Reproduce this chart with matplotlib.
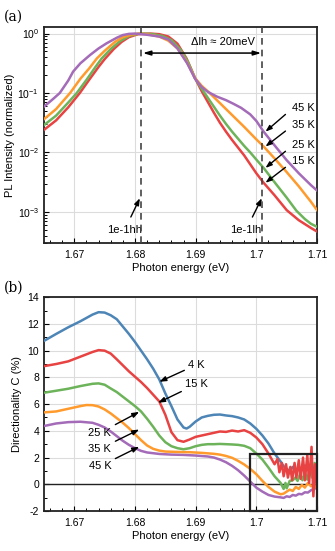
# PL spectra (a) and directionality (b) vs photon energy
import numpy as np
import matplotlib
matplotlib.use("Agg")
import matplotlib.pyplot as plt
from matplotlib.ticker import MultipleLocator, LogLocator, NullFormatter, FixedLocator, FixedFormatter
from matplotlib.patches import Rectangle

plt.rcParams['font.family'] = ['Liberation Sans', 'DejaVu Sans']
plt.rcParams['font.size'] = 7.5
plt.rcParams['mathtext.fontset'] = 'custom'
plt.rcParams['mathtext.rm'] = 'Liberation Sans'
plt.rcParams['mathtext.it'] = 'Liberation Sans:italic'
plt.rcParams['axes.unicode_minus'] = False

# colours
c_blue = '#4d85b6'
c_red = '#e84242'
c_green = '#6cb35a'
c_orange = '#ff9a2c'
c_purple = '#a36bb8'

# ---- panel (a): normalized PL, values stored as log10(I)
e_15a = [1.665, 1.667, 1.669, 1.6709, 1.6725, 1.674, 1.675, 1.6765, 1.6778, 1.679, 1.6805, 1.6825,
         1.684, 1.6855, 1.687, 1.6885, 1.6899, 1.691, 1.692, 1.693, 1.694, 1.695, 1.696, 1.697,
         1.698, 1.699, 1.700, 1.7012, 1.703, 1.705, 1.707, 1.709, 1.710]
l_15a = [-1.62, -1.46, -1.24, -1.0, -0.77, -0.56, -0.43, -0.26, -0.14, -0.06, -0.01, 0.0,
         -0.01, -0.05, -0.17, -0.42, -0.75, -0.97, -1.15, -1.33, -1.5, -1.65, -1.79, -1.92,
         -2.05, -2.2, -2.35, -2.51, -2.72, -2.97, -3.14, -3.27, -3.33]

e_25a = [1.665, 1.667, 1.669, 1.6704, 1.672, 1.6735, 1.6745, 1.676, 1.6775, 1.679, 1.6805, 1.6815,
         1.683, 1.6845, 1.686, 1.6875, 1.6887, 1.6899, 1.691, 1.692, 1.693, 1.694, 1.695, 1.696,
         1.697, 1.698, 1.699, 1.700, 1.7012, 1.703, 1.705, 1.7066, 1.708, 1.709, 1.710]
l_25a = [-1.54, -1.38, -1.16, -1.0, -0.78, -0.56, -0.42, -0.26, -0.13, -0.04, -0.005, 0.0,
         -0.01, -0.04, -0.11, -0.27, -0.47, -0.75, -0.93, -1.08, -1.23, -1.38, -1.52, -1.65,
         -1.77, -1.89, -2.0, -2.12, -2.26, -2.5, -2.76, -2.98, -3.12, -3.2, -3.25]

e_35a = [1.665, 1.667, 1.6693, 1.671, 1.6725, 1.6737, 1.675, 1.6767, 1.678, 1.6795, 1.6808,
         1.682, 1.684, 1.6855, 1.687, 1.6885, 1.6899, 1.691, 1.6923, 1.694, 1.696, 1.698, 1.700,
         1.7012, 1.703, 1.705, 1.707, 1.709, 1.710]
l_35a = [-1.44, -1.27, -1.0, -0.76, -0.58, -0.42, -0.29, -0.14, -0.06, -0.015, 0.0,
         -0.01, -0.05, -0.12, -0.25, -0.47, -0.75, -0.88, -1.0, -1.17, -1.37, -1.57, -1.78,
         -1.9, -2.1, -2.33, -2.57, -2.83, -2.97]

e_45a = [1.665, 1.6665, 1.6676, 1.669, 1.6698, 1.671, 1.6726, 1.674, 1.6753, 1.677, 1.678, 1.679,
         1.680, 1.682, 1.684, 1.6855, 1.687, 1.6886, 1.6899, 1.691, 1.692, 1.6935, 1.695, 1.6962,
         1.6975, 1.699, 1.700, 1.7012, 1.703, 1.705, 1.707, 1.709, 1.710]
l_45a = [-1.23, -1.1, -1.0, -0.79, -0.64, -0.5, -0.36, -0.25, -0.165, -0.07, -0.025, -0.005,
         0.0, -0.02, -0.05, -0.1, -0.25, -0.5, -0.76, -0.9, -0.98, -1.06, -1.12, -1.18,
         -1.25, -1.36, -1.47, -1.65, -1.88, -2.13, -2.35, -2.55, -2.64]

# ---- panel (b): directionality C (%)
e_4b = [1.665, 1.667, 1.669, 1.671, 1.673, 1.674, 1.675, 1.676, 1.677, 1.678, 1.679, 1.680,
        1.681, 1.682, 1.683, 1.684, 1.685, 1.686, 1.687, 1.688, 1.6885, 1.689, 1.690, 1.691,
        1.692, 1.693, 1.694, 1.695, 1.696, 1.697, 1.698, 1.699, 1.700, 1.701, 1.702, 1.703,
        1.704, 1.7045, 1.705, 1.7055, 1.706, 1.7065, 1.707, 1.7075, 1.708, 1.7085, 1.709,
        1.7095, 1.710]
c_4b = [10.73, 11.25, 11.75, 12.2, 12.7, 12.88, 12.85, 12.65, 12.35, 11.8, 11.25, 10.65,
        10.0, 9.35, 8.65, 7.85, 6.8, 5.85, 4.85, 4.25, 4.17, 4.3, 4.7, 5.0,
        5.12, 5.2, 5.22, 5.15, 5.1, 5.0, 4.85, 4.55, 4.15, 3.65, 3.05, 2.3,
        1.7, 1.35, 1.15, 1.0, 1.3, 0.95, 1.25, 1.05, 1.4, 1.1, 1.45,
        1.2, 1.2]

e_15b = [1.665, 1.667, 1.669, 1.671, 1.673, 1.674, 1.675, 1.676, 1.677, 1.678, 1.679, 1.680,
         1.681, 1.682, 1.683, 1.684, 1.685, 1.686, 1.687, 1.688, 1.689, 1.690, 1.691, 1.692,
         1.693, 1.694, 1.695, 1.696, 1.697, 1.698, 1.699, 1.700, 1.701, 1.702, 1.703,
         1.7035, 1.7038, 1.7042, 1.7045, 1.7049, 1.7052, 1.7056, 1.7059, 1.7063, 1.7066,
         1.707, 1.7073, 1.7077, 1.708, 1.7084, 1.7087, 1.7091, 1.7094, 1.7097, 1.710]
c_15b = [8.84, 9.0, 9.2, 9.55, 9.9, 10.04, 10.0, 9.78, 9.35, 8.9, 8.45, 8.05,
         7.65, 7.2, 6.7, 6.2, 5.2, 3.9, 3.3, 3.18, 3.35, 3.55, 3.65, 3.75,
         3.85, 3.95, 3.92, 4.02, 3.95, 4.05, 3.85, 3.5, 3.0, 2.3, 1.5,
         1.9, 0.9, 1.6, 0.6, 1.5, 0.5, 1.3, 0.3, 1.6, 0.5,
         1.8, 0.4, 2.0, 0.3, 2.2, 0.1, 2.8, -0.9, 1.5, -0.2]

e_25b = [1.665, 1.667, 1.669, 1.671, 1.673, 1.674, 1.675, 1.676, 1.677, 1.678, 1.679, 1.680,
         1.681, 1.682, 1.683, 1.684, 1.685, 1.686, 1.687, 1.688, 1.689, 1.690, 1.691, 1.692,
         1.693, 1.694, 1.695, 1.696, 1.697, 1.698, 1.699, 1.700, 1.701, 1.702, 1.703, 1.704,
         1.7045, 1.7048, 1.705, 1.7055, 1.706, 1.7064, 1.7068, 1.7072, 1.7076, 1.708, 1.7084,
         1.7088, 1.7092, 1.7096, 1.710]
c_25b = [6.85, 7.0, 7.15, 7.35, 7.52, 7.55, 7.45, 7.17, 6.9, 6.55, 6.2, 5.85,
         5.45, 4.9, 4.3, 3.65, 3.15, 2.85, 2.7, 2.62, 2.7, 2.85, 2.95, 3.0,
         3.0, 3.02, 3.0, 2.98, 2.95, 2.88, 2.7, 2.3, 1.85, 1.25, 0.6, 0.1,
         -0.35, 0.1, -0.3, 0.25, 0.3, 0.5, 0.25, 0.8, 0.3, 0.9, 0.35,
         1.1, 0.5, 1.6, 1.2]

e_35b = [1.665, 1.667, 1.669, 1.671, 1.672, 1.673, 1.674, 1.675, 1.676, 1.677, 1.678, 1.679,
         1.680, 1.681, 1.682, 1.683, 1.684, 1.685, 1.687, 1.689, 1.691, 1.693, 1.694, 1.695,
         1.696, 1.697, 1.698, 1.699, 1.700, 1.701, 1.702, 1.703, 1.704, 1.7045, 1.705,
         1.7055, 1.706, 1.7065, 1.707, 1.7075, 1.708, 1.7085, 1.709, 1.7095, 1.710]
c_35b = [5.38, 5.45, 5.65, 5.85, 5.93, 5.92, 5.82, 5.6, 5.3, 4.95, 4.6, 4.2,
         3.75, 3.3, 2.9, 2.65, 2.52, 2.45, 2.42, 2.4, 2.35, 2.28, 2.22, 2.12,
         1.98, 1.75, 1.48, 1.15, 0.75, 0.25, -0.2, -0.55, -0.75, -0.7, -0.55,
         -0.4, -0.5, -0.2, -0.35, -0.05, -0.25, 0.1, -0.15, 0.0, -0.3]

e_45b = [1.665, 1.667, 1.669, 1.671, 1.673, 1.674, 1.675, 1.676, 1.677, 1.678, 1.679, 1.680,
         1.681, 1.682, 1.684, 1.686, 1.688, 1.690, 1.692, 1.693, 1.694, 1.695, 1.696, 1.697,
         1.698, 1.699, 1.700, 1.701, 1.702, 1.703, 1.704, 1.7045, 1.705, 1.7055, 1.706,
         1.7065, 1.707, 1.7075, 1.708, 1.7085, 1.709, 1.7095, 1.710]
c_45b = [4.36, 4.55, 4.65, 4.68, 4.6, 4.45, 4.25, 3.95, 3.6, 3.25, 2.95, 2.7,
         2.5, 2.38, 2.27, 2.22, 2.2, 2.15, 2.08, 2.0, 1.85, 1.65, 1.38, 1.05,
         0.65, 0.2, -0.25, -0.55, -0.8, -0.92, -0.98, -1.02, -0.9, -0.95, -0.8,
         -0.85, -0.72, -0.75, -0.6, -0.62, -0.45, -0.35, -0.25]

xticks = [1.67, 1.68, 1.69, 1.70, 1.71]
xticklabels = ['1.67', '1.68', '1.69', '1.7', '1.71']

fig = plt.figure(figsize=(3.35, 5.51), dpi=100)
axa = fig.add_axes([0.1313, 0.559, 0.815, 0.392])
axb = fig.add_axes([0.1313, 0.0726, 0.815, 0.388])

lw = 1.8
grid_kw = dict(color='#dcdcdc', lw=0.8)

# ---------------- panel (a)
axa.plot(e_15a, 10 ** np.array(l_15a), color=c_red, lw=lw, zorder=3)
axa.plot(e_25a, 10 ** np.array(l_25a), color=c_green, lw=lw, zorder=3)
axa.plot(e_35a, 10 ** np.array(l_35a), color=c_orange, lw=lw, zorder=3)
axa.plot(e_45a, 10 ** np.array(l_45a), color=c_purple, lw=lw, zorder=3)
axa.set_yscale('log')
axa.set_xlim(1.665, 1.71)
axa.set_ylim(3.0e-4, 1.29)
axa.yaxis.set_major_locator(LogLocator(base=10, numticks=10))
axa.yaxis.set_minor_locator(LogLocator(base=10, subs=np.arange(2, 10), numticks=10))
axa.yaxis.set_minor_formatter(NullFormatter())

for x0 in [1.681, 1.701]:
    axa.axvline(x0, color='#444444', lw=1.2, ls=(0, (4, 3)), zorder=4)

axa.annotate('', xy=(1.6813, 0.47), xytext=(1.7008, 0.47),
             arrowprops=dict(arrowstyle='<|-|>,head_length=0.6,head_width=0.18', color='k', lw=1.1,
                             shrinkA=0, shrinkB=0), zorder=5)
axa.text(1.6945, 0.72, '\u0394lh \u2248 20meV', ha='center', va='center', fontsize=8)

arr = dict(arrowstyle='-|>,head_length=0.5,head_width=0.18', color='k', lw=1.0, shrinkA=0, shrinkB=0)
axa.annotate('1e-1hh', xy=(1.6808, 1.7e-3), xytext=(1.6783, 5.0e-4), ha='center', va='center',
             fontsize=8, arrowprops=dict(arr, shrinkA=4))
axa.annotate('1e-1lh', xy=(1.7009, 1.7e-3), xytext=(1.6983, 5.0e-4), ha='center', va='center',
             fontsize=8, arrowprops=dict(arr, shrinkA=4))

a_labels = ['45 K', '35 K', '25 K', '15 K']
a_label_y = [-1.25, -1.53, -1.87, -2.14]
a_tip_y = [-1.65, -1.90, -2.26, -2.51]
for lab, ly, ty in zip(a_labels, a_label_y, a_tip_y):
    axa.text(1.7077, 10 ** ly, lab, ha='center', va='center', fontsize=8)
    axa.annotate('', xy=(1.7015, 10 ** ty), xytext=(1.7048, 10 ** (ly - 0.11)), arrowprops=arr)

# ---------------- panel (b)
axb.plot(e_45b, c_45b, color=c_purple, lw=lw, zorder=3)
axb.plot(e_35b, c_35b, color=c_orange, lw=lw, zorder=3)
axb.plot(e_25b, c_25b, color=c_green, lw=lw, zorder=3)
axb.plot(e_4b, c_4b, color=c_blue, lw=lw, zorder=3)
axb.plot(e_15b, c_15b, color=c_red, lw=lw, zorder=3)
axb.axhline(0, color='#222222', lw=1.0, zorder=2)
axb.set_xlim(1.665, 1.71)
axb.set_ylim(-2, 14)
axb.yaxis.set_major_locator(MultipleLocator(2))
axb.yaxis.set_minor_locator(MultipleLocator(1))
axb.add_patch(Rectangle((1.699, -2), 0.011, 4.3, fill=False, ec='#222222', lw=1.6,
                        zorder=6, clip_on=False))

axb.annotate('4 K', xy=(1.684, 7.67), xytext=(1.6888, 8.95), ha='left', va='center',
             fontsize=8, arrowprops=dict(arr, shrinkA=1))
axb.annotate('15 K', xy=(1.6838, 6.1), xytext=(1.6883, 7.5), ha='left', va='center',
             fontsize=8, arrowprops=dict(arr, shrinkA=1))
b_labels = ['25 K', '35 K', '45 K']
b_label_y = [3.85, 2.65, 1.35]
b_tip_y = [5.42, 4.1, 2.81]
for lab, ly, ty in zip(b_labels, b_label_y, b_tip_y):
    axb.annotate(lab, xy=(1.6807, ty), xytext=(1.6761, ly), ha='right', va='center',
                 fontsize=8, arrowprops=dict(arr, shrinkA=1))

# ---------------- shared styling
for ax in [axa, axb]:
    ax.xaxis.set_major_locator(FixedLocator(xticks))
    ax.xaxis.set_major_formatter(FixedFormatter(xticklabels))
    ax.xaxis.set_minor_locator(MultipleLocator(0.002))
    ax.grid(True, which='major', **grid_kw)
    ax.set_axisbelow(True)
    ax.tick_params(which='both', direction='in', top=False, right=False, labelsize=7.5)
    ax.tick_params(which='major', length=3.5, width=0.8)
    ax.tick_params(which='minor', length=2, width=0.7)
    ax.tick_params(axis='x', pad=5)
    for s in ax.spines.values():
        s.set_linewidth(1.3)
        s.set_color('#222222')
    ax.set_xlabel('Photon energy (eV)', fontsize=8, labelpad=2)

axa.set_ylabel('PL Intensity (normalized)', fontsize=8, labelpad=2)
axb.set_ylabel('Directionality C (%)', fontsize=8, labelpad=4)

fig.text(0.012, 1 - 17 / 551, '(a)', family=['DejaVu Serif'], fontsize=10, va='center')
fig.text(0.012, 1 - 288 / 551, '(b)', family=['DejaVu Serif'], fontsize=10, va='center')

fig.savefig('out.png', dpi=100)
